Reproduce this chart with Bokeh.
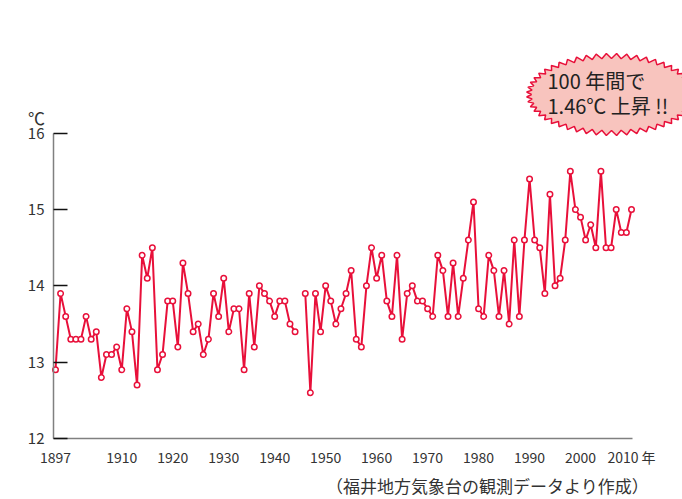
import numpy as np
from bokeh.plotting import figure
from bokeh.models import Range1d, FixedTicker, Label, ColumnDataSource
from bokeh.embed import file_html
from bokeh.resources import INLINE

# ---- data ----
years = list(range(1897, 2011))
temps = [
    12.9, 13.9, 13.6, 13.3, 13.3, 13.3, 13.6, 13.3, 13.4, 12.8,   # 1897-1906
    13.1, 13.1, 13.2, 12.9, 13.7, 13.4, 12.7, 14.4, 14.1, 14.5,   # 1907-1916
    12.9, 13.1, 13.8, 13.8, 13.2, 14.3, 13.9, 13.4, 13.5, 13.1,   # 1917-1926
    13.3, 13.9, 13.6, 14.1, 13.4, 13.7, 13.7, 12.9, 13.9, 13.2,   # 1927-1936
    14.0, 13.9, 13.8, 13.6, 13.8, 13.8, 13.5, 13.4, None, 13.9,   # 1937-1946
    12.6, 13.9, 13.4, 14.0, 13.8, 13.5, 13.7, 13.9, 14.2, 13.3,   # 1947-1956
    13.2, 14.0, 14.5, 14.1, 14.4, 13.8, 13.6, 14.4, 13.3, 13.9,   # 1957-1966
    14.0, 13.8, 13.8, 13.7, 13.6, 14.4, 14.2, 13.6, 14.3, 13.6,   # 1967-1976
    14.1, 14.6, 15.1, 13.7, 13.6, 14.4, 14.2, 13.6, 14.2, 13.5,   # 1977-1986
    14.6, 13.6, 14.6, 15.4, 14.6, 14.5, 13.9, 15.2, 14.0, 14.1,   # 1987-1996
    14.6, 15.5, 15.0, 14.9, 14.6, 14.8, 14.5, 15.5, 14.5, 14.5,   # 1997-2006
    15.0, 14.7, 14.7, 15.0,                                       # 2007-2010
]
x_ticks = [1897, 1910, 1920, 1930, 1940, 1950, 1960, 1970, 1980, 1990, 2000, 2010]
x_tick_labels = {2010: "2010 年"}
y_ticks = [12, 13, 14, 15, 16]
unit_label = "℃"
callout_lines = ["100 年間で", "1.46℃ 上昇 !!"]
source_note = "（福井地方気象台の観測データより作成）"

FONT = "Noto Sans CJK JP"
RED = "#e8103a"

# ---- geometry (frame covers the whole canvas; axes use fixed_location) ----
W, H = 682, 499
ppy = 576 / 113          # px per year
ppd = 305.3 / 4          # px per degree
x0 = 1897 - 55 / ppy
x1 = x0 + W / ppy
y1 = 16 + 132.7 / ppd
y0 = y1 - H / ppd

def dx(px):
    return x0 + px / ppy

def dy(py):
    return y1 - py / ppd

p = figure(width=W, height=H, output_backend="svg", toolbar_location=None,
           x_range=Range1d(x0, x1), y_range=Range1d(y0, y1),
           min_border=0, min_border_left=0, min_border_bottom=0,
           min_border_right=0, min_border_top=0)
p.outline_line_color = None
p.xgrid.visible = False
p.ygrid.visible = False
p.background_fill_color = "white"
p.border_fill_color = "white"

# axes
xa = p.xaxis[0]
xa.fixed_location = 12
xa.ticker = FixedTicker(ticks=x_ticks)
xa.major_label_overrides = x_tick_labels
xa.bounds = (dx(53), dx(632))
xa.axis_line_color = "#808080"
xa.axis_line_width = 1.5
xa.major_tick_in = 0
xa.major_tick_out = 0
xa.minor_tick_in = 0
xa.minor_tick_out = 0
xa.major_label_text_font = FONT
xa.major_label_text_font_size = "14px"
xa.major_label_text_color = "#333333"
xa.major_label_standoff = 8

ya = p.yaxis[0]
ya.fixed_location = dx(53)
ya.ticker = FixedTicker(ticks=y_ticks)
ya.bounds = (12, 16)
ya.axis_line_color = "#808080"
ya.axis_line_width = 1.5
ya.major_tick_in = 14
ya.major_tick_out = 0
ya.major_tick_line_color = "#111111"
ya.major_tick_line_width = 1.5
ya.minor_tick_in = 0
ya.minor_tick_out = 0
ya.major_label_text_font = FONT
ya.major_label_text_font_size = "15px"
ya.major_label_text_color = "#333333"
ya.major_label_standoff = 9

# data series
ys = [np.nan if v is None else v for v in temps]
src = ColumnDataSource(dict(x=years, y=ys))
p.line("x", "y", source=src, line_color=RED, line_width=2)
p.scatter("x", "y", source=src, size=5.5, marker="circle",
          fill_color="white", line_color=RED, line_width=1.5)

# starburst callout
cx, cy, rx, ry, depth, n = 611, 94, 85, 41, 5, 52
t = np.linspace(0, 2 * np.pi, 2 * n, endpoint=False)
r_out = np.array([0 if i % 2 == 0 else 1 for i in range(2 * n)])
sx = cx + (rx - depth * (1 - r_out)) * np.cos(t)
sy = cy + (ry - depth * (1 - r_out)) * np.sin(t)
p.patch([dx(v) for v in sx], [dy(v) for v in sy], fill_color="#f8c4be",
        line_color=RED, line_width=1.5)

for line_txt, py in zip(callout_lines, [80, 105]):
    p.add_layout(Label(x=dx(547), y=dy(py), text=line_txt, text_font=FONT,
                       text_font_size="20px", text_color="#222222",
                       text_align="left", text_baseline="middle"))

p.add_layout(Label(x=dx(36), y=dy(117), text=unit_label, text_font=FONT,
                   text_font_size="17px", text_color="#333333",
                   text_align="center", text_baseline="middle"))
p.add_layout(Label(x=dx(487), y=dy(485), text=source_note, text_font=FONT,
                   text_font_size="17px", text_color="#333333",
                   text_align="center", text_baseline="middle"))

open("out.html", "w").write(file_html(p, INLINE))
